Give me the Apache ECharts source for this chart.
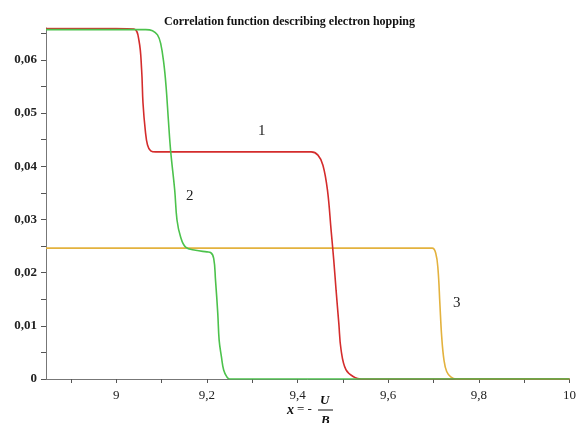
<!DOCTYPE html>
<html>
<head>
    <meta charset="utf-8" />
    <title>Correlation function</title>
    <script src="https://cdn.jsdelivr.net/npm/echarts@6/dist/echarts.min.js"></script>
    <style>
        html, body { margin: 0; padding: 0; background: #fff; }
        #main { width: 579px; height: 423px; }
    </style>
</head>
<body>
    <div id="main"></div>
    <script type="text/javascript">
        // curve 1 (red)
        var redX = [8.845, 9.0, 9.039, 9.050, 9.056, 9.059, 9.064, 9.069, 9.076, 9.087, 9.2, 9.43, 9.445, 9.456, 9.466, 9.474, 9.480, 9.485, 9.491, 9.496, 9.507, 9.526, 9.54, 10.0];
        var redY = [0.0659, 0.0659, 0.0658, 0.0637, 0.0581, 0.0519, 0.0468, 0.0440, 0.0429, 0.0427, 0.0427, 0.0427, 0.0421, 0.0402, 0.0355, 0.0280, 0.0222, 0.0167, 0.0105, 0.0055, 0.0017, 0.0003, 0, 0];
        // curve 2 (green)
        var greenX = [8.845, 9.0, 9.065, 9.080, 9.091, 9.098, 9.105, 9.110, 9.115, 9.120, 9.129, 9.134, 9.142, 9.153, 9.175, 9.200, 9.208, 9.215, 9.219, 9.224, 9.227, 9.232, 9.237, 9.244, 9.25, 10.0];
        var greenY = [0.0657, 0.0657, 0.0657, 0.0655, 0.0647, 0.0631, 0.0593, 0.0549, 0.0487, 0.0429, 0.0355, 0.0299, 0.0267, 0.0248, 0.0242, 0.0239, 0.0238, 0.0227, 0.0186, 0.0123, 0.0073, 0.0042, 0.0017, 0.0004, 0, 0];
        // curve 3 (yellow)
        var yellowX = [8.845, 9.5, 9.697, 9.705, 9.710, 9.714, 9.718, 9.723, 9.729, 9.738, 9.75, 10.0];
        var yellowY = [0.0246, 0.0246, 0.0246, 0.0236, 0.0205, 0.0142, 0.0080, 0.0036, 0.0014, 0.0004, 0, 0];

        var xTicks = [8.9, 9.0, 9.1, 9.2, 9.3, 9.4, 9.5, 9.6, 9.7, 9.8, 9.9, 10.0];
        var xLabels = [9, 9.2, 9.4, 9.6, 9.8, 10];
        var yTicks = [0, 0.005, 0.01, 0.015, 0.02, 0.025, 0.03, 0.035, 0.04, 0.045, 0.05, 0.055, 0.06, 0.065];
        var yLabels = [0, 0.01, 0.02, 0.03, 0.04, 0.05, 0.06];

        var curveNames = ['1', '2', '3'];
        var curveColors = ['#d42c2c', '#4cc24c', '#e3b23e'];

        const zip = (xs, ys) => xs.map((x, i) => [x, ys[i]]);
        const serif = 'Liberation Serif, Times New Roman, serif';

        var chart = echarts.init(document.getElementById('main'));

        var lineSeries = (name, data, color, z) => ({
            name: name,
            type: 'line',
            data: data,
            showSymbol: false,
            smooth: 0.4,
            z: z,
            lineStyle: { color: color, width: 1.6 },
            animation: false
        });

        var option = {
            backgroundColor: '#fff',
            title: {
                text: 'Correlation function describing electron hopping',
                left: 'center',
                top: 11,
                textStyle: { fontFamily: serif, fontWeight: 'bold', fontSize: 12, color: '#111' }
            },
            grid: { left: 46, right: 6, top: 28, bottom: 44, containLabel: false },
            xAxis: {
                type: 'value',
                min: 8.845,
                max: 10,
                splitLine: { show: false },
                axisLine: { lineStyle: { color: '#777', width: 1 } },
                axisTick: { customValues: xTicks, length: 4, lineStyle: { color: '#555' } },
                axisLabel: {
                    customValues: xLabels,
                    margin: 10,
                    fontFamily: serif,
                    fontSize: 13,
                    color: '#222',
                    formatter: v => String(+v.toFixed(1)).replace('.', ',')
                }
            },
            yAxis: {
                type: 'value',
                min: 0,
                max: 0.066,
                splitLine: { show: false },
                axisLine: { show: true, lineStyle: { color: '#777', width: 1 } },
                axisTick: { show: true, customValues: yTicks, length: 5, lineStyle: { color: '#555' } },
                axisLabel: {
                    customValues: yLabels,
                    margin: 9,
                    fontFamily: serif,
                    fontWeight: 'bold',
                    fontSize: 13,
                    color: '#222',
                    formatter: v => v === 0 ? '0' : v.toFixed(2).replace('.', ',')
                }
            },
            series: [
                lineSeries(curveNames[2], zip(yellowX, yellowY), curveColors[2], 2),
                lineSeries(curveNames[0], zip(redX, redY), curveColors[0], 3),
                lineSeries(curveNames[1], zip(greenX, greenY), curveColors[1], 4)
            ],
            graphic: [
                { type: 'text', left: 258, top: 124, style: { text: '1', font: '15px ' + serif, fill: '#222' } },
                { type: 'text', left: 186, top: 189, style: { text: '2', font: '15px ' + serif, fill: '#222' } },
                { type: 'text', left: 453, top: 296, style: { text: '3', font: '15px ' + serif, fill: '#222' } },
                // axis name x = - U / B
                { type: 'text', left: 287, top: 403, style: { text: 'x', font: 'italic bold 14px ' + serif, fill: '#111' } },
                { type: 'text', left: 297, top: 403, style: { text: '= -', font: '13px ' + serif, fill: '#111' } },
                { type: 'text', left: 320, top: 394, style: { text: 'U', font: 'italic bold 13px ' + serif, fill: '#111' } },
                { type: 'line', shape: { x1: 318, y1: 410, x2: 333, y2: 410 }, style: { stroke: '#111', lineWidth: 1 } },
                { type: 'text', left: 321, top: 414, style: { text: 'B', font: 'italic bold 13px ' + serif, fill: '#111' } }
            ]
        };

        chart.setOption(option);
    </script>
</body>
</html>
